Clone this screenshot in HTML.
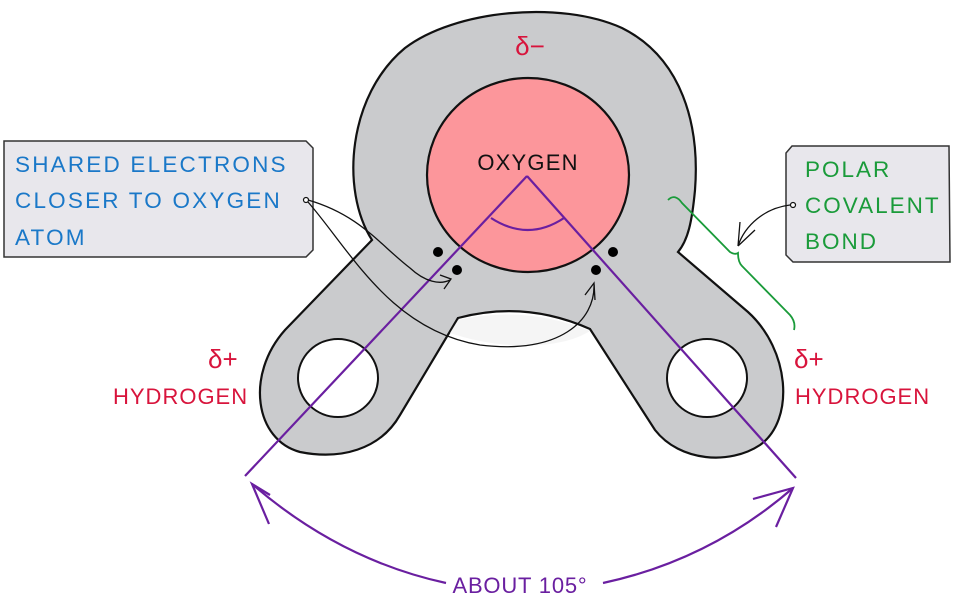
<!DOCTYPE html>
<html><head><meta charset="utf-8"><style>
html,body{margin:0;padding:0;background:#fff;}
svg{display:block;}
text{font-family:"Liberation Sans",sans-serif;}
</style></head><body>
<svg width="959" height="601" viewBox="0 0 959 601" xmlns="http://www.w3.org/2000/svg">
<path d="M372,240 C340,190 348,95 405,48 C455,10 560,0 622,28 C682,58 700,125 695,190 C692,222 688,240 678,252 L748,312 C790,350 795,420 760,445 C730,465 680,462 655,430 L590,329 Q525,300 458,318 L400,415 C380,450 340,460 300,452 C255,440 245,375 285,330 Z" fill="#cacbcd" stroke="#111" stroke-width="2.2"/>
<path d="M458,320 Q525,305 590,331 C560,350 500,350 450,333 Z" fill="#f2f2f2" opacity="0.8"/>
<ellipse cx="338" cy="378" rx="40" ry="39" fill="#fff" stroke="#111" stroke-width="2"/>
<ellipse cx="707" cy="378" rx="40" ry="39" fill="#fff" stroke="#111" stroke-width="2"/>
<ellipse cx="528" cy="175" rx="101" ry="97" fill="#fc969b" stroke="#111" stroke-width="2.2"/>
<text x="528" y="170" font-size="22" text-anchor="middle" fill="#111" letter-spacing="1.2">OXYGEN</text>
<text x="530" y="55" font-size="26" text-anchor="middle" fill="#d8143c">δ−</text>
<circle cx="438" cy="252" r="5" fill="#000"/>
<circle cx="457" cy="270" r="5" fill="#000"/>
<circle cx="613" cy="252" r="5" fill="#000"/>
<circle cx="596" cy="270" r="5" fill="#000"/>
<g stroke="#6a1fa0" stroke-width="2.2" fill="none">
<path d="M527,176 L245,476"/>
<path d="M527,176 L796,478"/>
<path d="M491,218 Q528,242 564,218"/>
<path d="M252,484 Q340,560 446,583"/>
<path d="M603,583 Q710,560 793,488"/>
<path d="M270,495 L252,484 L269,524"/>
<path d="M753,499 L793,488 L776,527"/>
</g>
<text x="520" y="593" font-size="22" text-anchor="middle" fill="#6a1fa0" letter-spacing="0.8">ABOUT 105°</text>
<path d="M4,141 L306,141 L313,148 L313,250 L306,257 L4,257 Z" fill="#e8e7ec" stroke="#333" stroke-width="1.5"/>
<g font-size="22.5" fill="#1a78c8" letter-spacing="2.2">
<text x="15" y="172">SHARED ELECTRONS</text>
<text x="15" y="208">CLOSER TO OXYGEN</text>
<text x="15" y="245">ATOM</text>
</g>
<circle cx="306" cy="200" r="2.5" fill="#fff" stroke="#111" stroke-width="1.2"/>
<g stroke="#111" stroke-width="1.3" fill="none">
<path d="M308,200 C360,215 380,245 410,268 C425,282 440,285 450,280"/>
<path d="M440,275 L451,279 L444,289"/>
<path d="M308,202 C350,250 390,330 480,345 C560,355 595,320 594,285"/>
<path d="M585,295 L594,283 L595,300"/>
</g>
<path d="M792,146 L949,146 L950,262 L793,262 L786,255 L786,153 Z" fill="#e8e7ec" stroke="#333" stroke-width="1.5"/>
<g font-size="22.5" fill="#1a9b3a" letter-spacing="2">
<text x="805" y="177">POLAR</text>
<text x="805" y="213">COVALENT</text>
<text x="805" y="249">BOND</text>
</g>
<circle cx="793" cy="205" r="2.5" fill="#fff" stroke="#111" stroke-width="1.2"/>
<path d="M790,205 C765,208 745,225 738,246 M738,246 L740,222 M738,246 L755,230" stroke="#111" stroke-width="1.3" fill="none"/>
<path d="M668,200 Q675,193 682,203 L730,252 Q735,255 738,253 Q738,262 742,266 L790,315 Q796,322 794,330" stroke="#1a9b3a" stroke-width="1.8" fill="none"/>
<g fill="#d8143c">
<text x="208" y="368" font-size="26">δ+</text>
<text x="113" y="404" font-size="22" letter-spacing="1">HYDROGEN</text>
<text x="794" y="368" font-size="26">δ+</text>
<text x="795" y="404" font-size="22" letter-spacing="1">HYDROGEN</text>
</g>
</svg>
</body></html>
